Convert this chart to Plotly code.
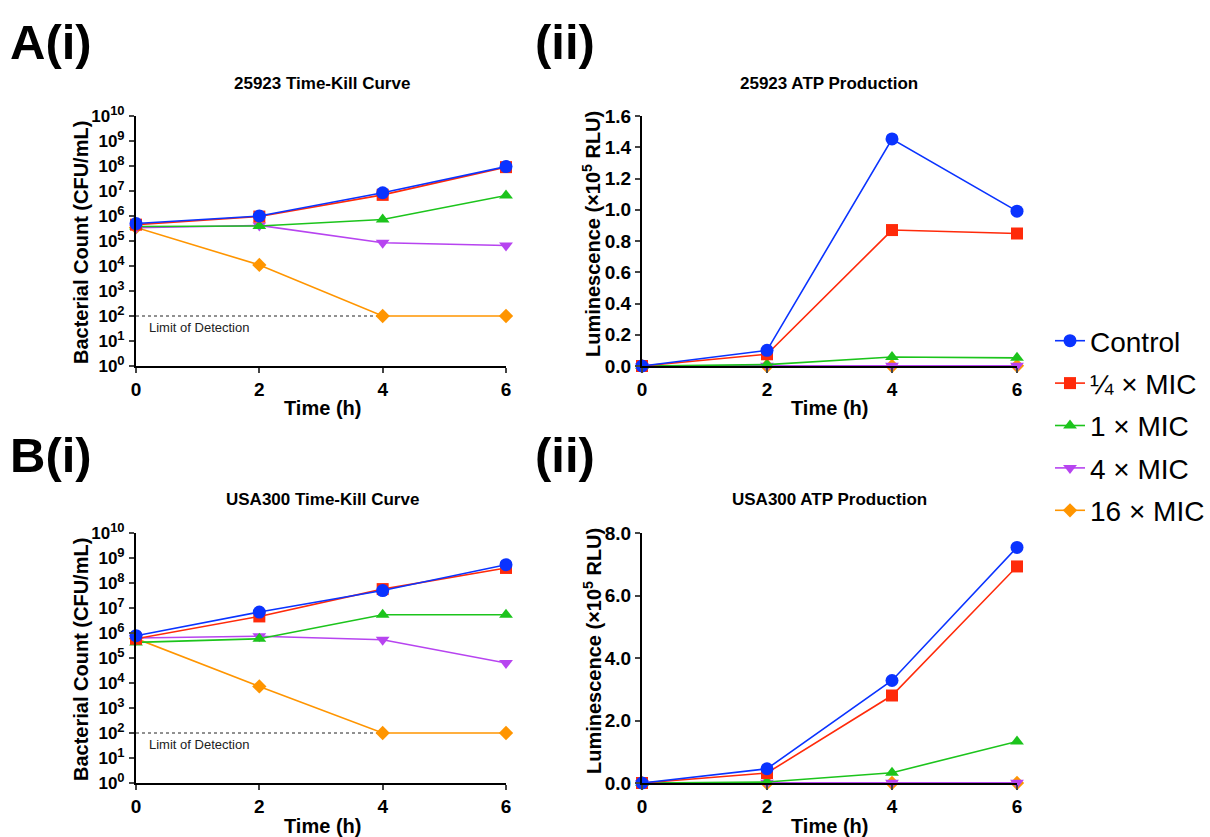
import plotly.graph_objects as go

# ---------------- data ----------------
times = [0, 2, 4, 6]
series_names = ["Control", "¼ × MIC", "1 × MIC", "4 × MIC", "16 × MIC"]

# A(i) 25923 time-kill (CFU/mL)
a_kill_control = [5.0e5, 1.0e6, 8.5e6, 9.5e7]
a_kill_quarter = [4.5e5, 9.5e5, 7.0e6, 9.0e7]
a_kill_1x = [3.8e5, 4.0e5, 7.2e5, 6.6e6]
a_kill_4x = [3.4e5, 4.2e5, 8.5e4, 6.6e4]
a_kill_16x = [3.5e5, 1.1e4, 1.0e2, 1.0e2]

# A(ii) 25923 ATP (x10^5 RLU)
a_atp_control = [0.0, 0.10, 1.453, 0.991]
a_atp_quarter = [0.0, 0.075, 0.87, 0.848]
a_atp_1x = [0.0, 0.009, 0.058, 0.052]
a_atp_4x = [0.0, 0.002, 0.002, 0.002]
a_atp_16x = [0.0, 0.0, 0.0, 0.001]

# B(i) USA300 time-kill (CFU/mL)
b_kill_control = [7.8e5, 6.9e6, 5.0e7, 5.4e8]
b_kill_quarter = [5.9e5, 4.6e6, 5.7e7, 4.0e8]
b_kill_1x = [4.2e5, 5.9e5, 5.4e6, 5.4e6]
b_kill_4x = [6.3e5, 7.4e5, 5.4e5, 6.3e4]
b_kill_16x = [6.0e5, 7.3e3, 1.0e2, 1.0e2]

# B(ii) USA300 ATP (x10^5 RLU)
b_atp_control = [0.0, 0.456, 3.28, 7.54]
b_atp_quarter = [0.0, 0.32, 2.80, 6.93]
b_atp_1x = [0.0, 0.03, 0.33, 1.33]
b_atp_4x = [0.0, 0.01, 0.01, 0.01]
b_atp_16x = [0.0, 0.0, 0.0, 0.0]

lod_x = [0, 4]
lod_y = [100, 100]

log_tickvals = [10 ** k for k in range(11)]
log_exponents = [str(k) for k in range(11)]
atp_a_ticks = [0, 0.2, 0.4, 0.6, 0.8, 1.0, 1.2, 1.4, 1.6]
atp_b_ticks = [0, 2, 4, 6, 8]

# ---------------- style ----------------
colors = ["#0A33FF", "#FF2A0A", "#1CC41C", "#B744F0", "#FF9500"]
symbols = ["circle", "square", "triangle-up", "triangle-down", "diamond"]
sizes = [13, 12, 12, 12, 11]
FONT = "Liberation Sans, Arial, sans-serif"

log_ticktext = ["10<sup><span style='font-size:13px'>%s</span></sup>" % e
                for e in log_exponents]

fig = go.Figure()

panels = [
    ("x", "y", [a_kill_control, a_kill_quarter, a_kill_1x, a_kill_4x, a_kill_16x]),
    ("x2", "y2", [a_atp_control, a_atp_quarter, a_atp_1x, a_atp_4x, a_atp_16x]),
    ("x3", "y3", [b_kill_control, b_kill_quarter, b_kill_1x, b_kill_4x, b_kill_16x]),
    ("x4", "y4", [b_atp_control, b_atp_quarter, b_atp_1x, b_atp_4x, b_atp_16x]),
]

for pi, (xa, ya, data) in enumerate(panels):
    if pi in (0, 2):
        fig.add_trace(go.Scatter(
            x=lod_x, y=lod_y, mode="lines", xaxis=xa, yaxis=ya,
            line=dict(color="#222222", width=1, dash="dot"),
            showlegend=False, hoverinfo="skip"))
    for si in reversed(range(5)):
        fig.add_trace(go.Scatter(
            x=times, y=data[si], mode="lines+markers", xaxis=xa, yaxis=ya,
            name=series_names[si], legendgroup="g%d" % si,
            legendrank=si + 1, showlegend=(pi == 0),
            line=dict(color=colors[si], width=1.6),
            marker=dict(color=colors[si], symbol=symbols[si], size=sizes[si],
                        line=dict(width=0)),
            cliponaxis=False))

W, H = 1210, 837
def px_x(p):
    return p / W
def px_y(p):
    return 1 - p / H

tickfont = dict(family=FONT, size=19, color="black", weight="bold")
logtickfont = dict(family=FONT, size=17, color="black", weight="bold")
TITLE_SIZE = 20

def xaxis_cfg(anchor, x0, x1):
    return dict(domain=[px_x(x0), px_x(x1)], anchor=anchor, range=[0, 6],
                tickvals=[0, 2, 4, 6], ticks="outside", ticklen=5, tickwidth=2,
                showline=True, linecolor="black", linewidth=2, showgrid=False,
                zeroline=False, tickfont=tickfont, automargin=False)

def yaxis_cfg(anchor, y0, y1, **kw):
    d = dict(domain=[px_y(y1), px_y(y0)], anchor=anchor, ticks="outside",
             ticklen=5, tickwidth=2, showline=True, linecolor="black",
             linewidth=2, showgrid=False, zeroline=False, tickfont=tickfont,
             automargin=False)
    d.update(kw)
    return d

fig.update_layout(
    width=W, height=H, margin=dict(l=0, r=0, t=0, b=0),
    paper_bgcolor="white", plot_bgcolor="white",
    font=dict(family=FONT, color="black"),
    xaxis=xaxis_cfg("y", 136, 506),
    xaxis2=xaxis_cfg("y2", 642, 1017),
    xaxis3=xaxis_cfg("y3", 136, 506),
    xaxis4=xaxis_cfg("y4", 642, 1017),
    yaxis=yaxis_cfg("x", 116, 366, type="log", range=[0, 10],
                    tickvals=log_tickvals, ticktext=log_ticktext,
                    tickfont=logtickfont, ticklabelstandoff=1),
    yaxis2=yaxis_cfg("x2", 116, 366, range=[0, 1.6], tickvals=atp_a_ticks,
                     tickformat=".1f"),
    yaxis3=yaxis_cfg("x3", 533, 783, type="log", range=[0, 10],
                     tickvals=log_tickvals, ticktext=log_ticktext,
                     tickfont=logtickfont, ticklabelstandoff=1),
    yaxis4=yaxis_cfg("x4", 533, 783, range=[0, 8], tickvals=atp_b_ticks,
                     tickformat=".1f"),
    legend=dict(x=px_x(1050), y=px_y(316), xanchor="left", yanchor="top",
                font=dict(family=FONT, size=28, color="black"),
                traceorder="grouped", tracegroupgap=3, itemwidth=30,
                bgcolor="rgba(0,0,0,0)"),
    showlegend=True,
)

def ann(text, x, y, size, bold=True, angle=0, xanchor="center"):
    fig.add_annotation(text=("<b>%s</b>" % text) if bold else text,
                       x=px_x(x), y=px_y(y), xref="paper", yref="paper",
                       showarrow=False, xanchor=xanchor, yanchor="middle",
                       textangle=angle,
                       font=dict(family=FONT, size=size, color="black"))

# panel titles
ann("25923 Time-Kill Curve", 322, 83, 17)
ann("25923 ATP Production", 829, 83, 17)
ann("USA300 Time-Kill Curve", 322, 499, 17)
ann("USA300 ATP Production", 829, 499, 17)

# panel labels
ann("A(i)", 8, 42, 49, xanchor="left")
ann("(ii)", 533, 42, 49, xanchor="left")
ann("B(i)", 8, 455, 49, xanchor="left")
ann("(ii)", 533, 455, 49, xanchor="left")

# axis titles
ann("Bacterial Count (CFU/mL)", 81, 243, TITLE_SIZE, angle=-90)
ann("Luminescence (×10<sup>5</sup> RLU)", 592, 234, TITLE_SIZE, angle=-90)
ann("Bacterial Count (CFU/mL)", 81, 660, TITLE_SIZE, angle=-90)
ann("Luminescence (×10<sup>5</sup> RLU)", 592, 651, TITLE_SIZE, angle=-90)
ann("Time (h)", 322, 408, TITLE_SIZE)
ann("Time (h)", 829, 408, TITLE_SIZE)
ann("Time (h)", 322, 826, TITLE_SIZE)
ann("Time (h)", 829, 826, TITLE_SIZE)

for xa, ya in (("x", "y"), ("x3", "y3")):
    fig.add_annotation(text="Limit of Detection", x=0.18, y=1.55, xref=xa, yref=ya,
                       showarrow=False, xanchor="left", yanchor="middle",
                       font=dict(family=FONT, size=13, color="#222222"))

fig.write_html("out.html")
